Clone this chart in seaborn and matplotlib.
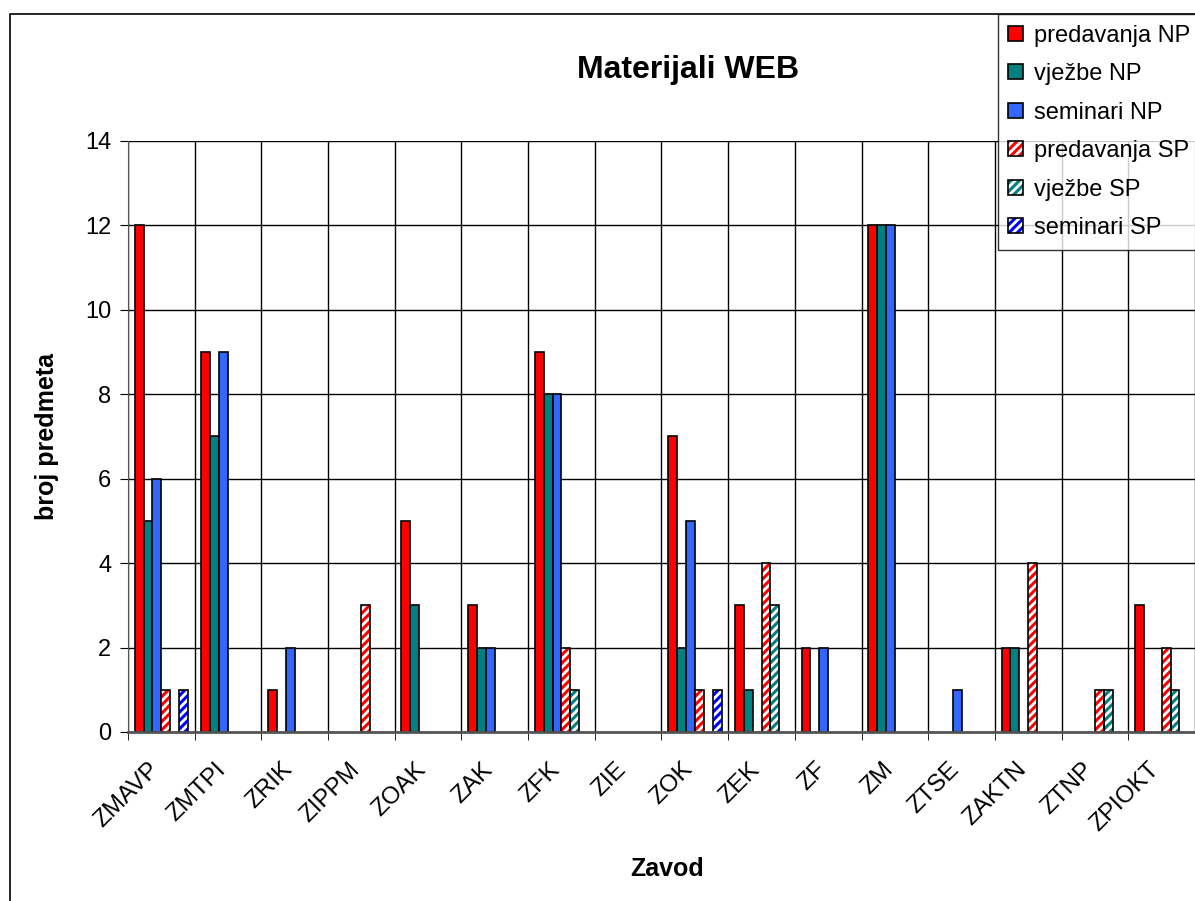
import pandas as pd
import seaborn as sns
import matplotlib.pyplot as plt
from matplotlib.patches import Rectangle

# Data
zavodi = ['ZMAVP', 'ZMTPI', 'ZRIK', 'ZIPPM', 'ZOAK', 'ZAK', 'ZFK', 'ZIE',
          'ZOK', 'ZEK', 'ZF', 'ZM', 'ZTSE', 'ZAKTN', 'ZTNP', 'ZPIOKT']
series = ['predavanja NP', 'vježbe NP', 'seminari NP',
          'predavanja SP', 'vježbe SP', 'seminari SP']
predavanja_np = [12, 9, 1, 0, 5, 3, 9, 0, 7, 3, 2, 12, 0, 2, 0, 3]
vjezbe_np = [5, 7, 0, 0, 3, 2, 8, 0, 2, 1, 0, 12, 0, 2, 0, 0]
seminari_np = [6, 9, 2, 0, 0, 2, 8, 0, 5, 0, 2, 12, 1, 0, 0, 0]
predavanja_sp = [1, 0, 0, 3, 0, 0, 2, 0, 1, 4, 0, 0, 0, 4, 1, 2]
vjezbe_sp = [0, 0, 0, 0, 0, 0, 1, 0, 0, 3, 0, 0, 0, 0, 1, 1]
seminari_sp = [1, 0, 0, 0, 0, 0, 0, 0, 1, 0, 0, 0, 0, 0, 0, 0]

values = [predavanja_np, vjezbe_np, seminari_np, predavanja_sp, vjezbe_sp, seminari_sp]
colors = ['#FF0000', '#008080', '#3366FF', '#FF0000', '#008080', '#0000FF']
hatched = [False, False, False, True, True, True]

df = pd.DataFrame({
    'Zavod': zavodi * len(series),
    'serija': [s for s in series for _ in zavodi],
    'broj': [v for vals in values for v in vals],
})

plt.rcParams['font.family'] = ['Liberation Sans', 'DejaVu Sans']
plt.rcParams['hatch.linewidth'] = 2.2

fig = plt.figure(figsize=(11.95, 9.01), dpi=100)
ax = fig.add_axes([0.1071, 0.1876, 0.8929, 0.656])

sns.barplot(data=df, x='Zavod', y='broj', hue='serija', hue_order=series,
            palette=colors, width=0.8, edgecolor='black', linewidth=1.2,
            saturation=1, ax=ax, legend=False)

# Style the bars: hatched series and hide empty bars
for cont, col, h in zip(ax.containers, colors, hatched):
    for p in cont.patches:
        if p.get_height() == 0:
            p.set_visible(False)
            continue
        if h:
            p.set_facecolor('white')
            p.set_edgecolor(col)
            p.set_hatch('////')
            p.set_linewidth(0)
            ax.add_patch(Rectangle(p.get_xy(), p.get_width(), p.get_height(),
                                   fill=False, edgecolor='black', lw=1.2, zorder=p.get_zorder() + 0.1))

ax.set_xlim(-0.5, len(zavodi) - 0.5)
ax.set_ylim(0, 14)
ax.set_yticks(range(0, 15, 2))
# labels sit a little left of the group centre, like in Excel
ax.set_xticks([i - 0.2 for i in range(len(zavodi))])
ax.set_xticks([i + 0.5 for i in range(-1, len(zavodi))], minor=True)
ax.set_xticklabels(zavodi, rotation=45, ha='right', rotation_mode='anchor', fontsize=17.5)
ax.tick_params(axis='x', which='major', length=0, pad=19)
ax.tick_params(axis='x', which='minor', length=6, color='black', direction='out')
ax.tick_params(axis='y', labelsize=17, length=6, pad=6, color='black', direction='out')
ax.grid(axis='y', color='black', linewidth=1)
ax.grid(axis='x', which='minor', color='black', linewidth=1)
ax.set_axisbelow(True)
for s in ['top', 'right']:
    ax.spines[s].set_visible(False)
ax.spines['left'].set_color('#555555')
ax.spines['bottom'].set_color('#555555')
ax.spines['bottom'].set_linewidth(2)

ax.set_xlabel('Zavod', fontsize=18, fontweight='bold')
ax.xaxis.set_label_coords(0.505, -0.212)
ax.set_ylabel('broj predmeta', fontsize=18, fontweight='bold')
ax.yaxis.set_label_coords(-0.0646, 0.5)
fig.text(0.576, 0.922, 'Materijali WEB', ha='center', va='center', fontsize=23, fontweight='bold')

# Legend
handles = []
for col, h, s in zip(colors, hatched, series):
    if h:
        handles.append((Rectangle((0, 0), 1, 1, facecolor='white', edgecolor=col, hatch='////', lw=0),
                        Rectangle((0, 0), 1, 1, fill=False, edgecolor='black', lw=1.2)))
    else:
        handles.append(Rectangle((0, 0), 1, 1, facecolor=col, edgecolor='black', lw=1.2))
leg = fig.legend(handles=handles, labels=series, loc='upper left', bbox_to_anchor=(0.835, 0.9845),
                 fontsize=17, frameon=True, fancybox=False, edgecolor='black',
                 handlelength=0.6, handleheight=0.6, handletextpad=0.5, labelspacing=0.7,
                 borderpad=0.45, borderaxespad=0)
leg.get_frame().set_linewidth(1)

# Chart area border
fig.patches.append(Rectangle((10 / 1195, -0.01), 1.1, 1 - 14 / 901 + 0.01, transform=fig.transFigure,
                             fill=False, edgecolor='black', lw=1.2))

fig.savefig('out.png', dpi=100)
